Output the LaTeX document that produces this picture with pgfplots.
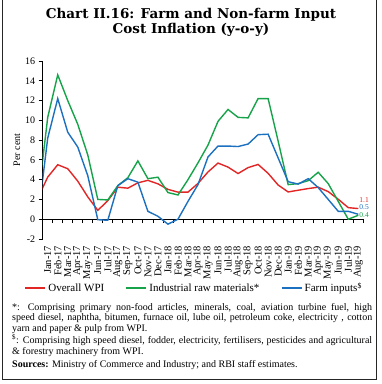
\documentclass[border=0pt]{standalone}
\usepackage{pgfplots}
\pgfplotsset{compat=1.18}
\usepackage{pgfplotstable}
\usepackage{fontspec}
\setmainfont{Liberation Serif}
\newfontfamily\titlefont{DejaVu Serif}
\definecolor{cred}{RGB}{226,38,38}
\definecolor{cgreen}{RGB}{22,163,74}
\definecolor{cblue}{RGB}{28,112,192}
\pgfplotstableread{
i   wpi   ind    farm
-1  2.10  1.70  -0.10
0   4.26  10.30  8.20
1   5.51  14.60 12.20
2   5.11  12.00  8.80
3   3.85   9.60  7.30
4   2.26   6.50  4.40
5   0.90   2.00 -0.05
6   1.88   1.95 -0.10
7   3.24   3.40  3.40
8   3.14   4.20  4.10
9   3.68   5.90  3.75
10  3.93   4.10  0.80
11  3.58   4.25  0.30
12  3.02   2.70 -0.50
13  2.74   2.45  0.00
14  2.74   4.00  1.80
15  3.62   5.70  3.50
16  4.78   7.50  6.30
17  5.68   9.90  7.40
18  5.27  11.10  7.40
19  4.62  10.30  7.35
20  5.22  10.25  7.60
21  5.54  12.20  8.55
22  4.64  12.20  8.60
23  3.46   7.90  6.20
24  2.76   3.50  3.80
25  2.93   3.60  3.55
26  3.10   3.90  4.10
27  3.24   4.75  3.20
28  2.79   3.60  2.00
29  2.02   1.80  0.80
30  1.17   0.00  0.80
31  1.08   0.40  0.50
}\datatable
\begin{document}
\begin{tikzpicture}[x=1pt,y=1pt]
\path[use as bounding box] (0,0) rectangle (382,-384);
\draw[line width=0.9pt, black!85] (2.7,0) -- (2.7,-379.3) -- (376.5,-379.3) -- (376.5,0);
\node[font=\titlefont\bfseries\fontsize{13.5}{15}\selectfont, align=center] at (191,-22.5) {Chart II.16: Farm and Non-farm Input\\Cost Inflation (y-o-y)};
\node[rotate=90, font=\fontsize{10}{12}\selectfont] at (17,-150) {Per cent};
\begin{axis}[
  at={(42.7pt,-239pt)}, anchor=south west,
  scale only axis, width=320.6pt, height=178pt,
  xmin=-0.5, xmax=31.5, ymin=-2, ymax=16,
  axis y line=left, axis x line=middle,
  axis line style={-, black, line width=0.8pt},
  hide obscured x ticks=false, hide obscured y ticks=false,
  ytick={-2,0,...,16},
  xtick={0,...,31},
  xticklabels={Jan-17,Feb-17,Mar-17,Apr-17,May-17,Jun-17,Jul-17,Aug-17,Sep-17,Oct-17,Nov-17,Dec-17,Jan-18,Feb-18,Mar-18,Apr-18,May-18,Jun-18,Jul-18,Aug-18,Sep-18,Oct-18,Nov-18,Dec-18,Jan-19,Feb-19,Mar-19,Apr-19,May-19,Jun-19,Jul-19,Aug-19},
  minor xtick={-0.5,0.5,...,31.5},
  major x tick style={draw=none},
  tick align=outside, major tick length=4pt, minor tick length=4pt,
  tick style={black, line width=0.8pt},
  xticklabel shift=19pt,
  x tick label style={rotate=90, anchor=east, font=\fontsize{10.5}{12}\selectfont},
  y tick label style={font=\fontsize{10}{12}\selectfont},
  /pgf/number format/assume math mode=true,
  clip mode=individual,
  legend columns=3,
  legend style={at={(axis description cs:0.472,-0.275)}, anchor=center, draw=none, fill=none,
    font=\fontsize{11}{13}\selectfont, /tikz/every even column/.append style={column sep=19pt}},
  legend image code/.code={\draw[#1, line width=2.2pt] (0pt,0pt) -- (20pt,0pt);},
]
\addplot[cred, line width=1.4pt] table[x=i, y=wpi] {\datatable};
\addlegendentry{Overall WPI}
\addplot[cgreen, line width=1.4pt] table[x=i, y=ind] {\datatable};
\addlegendentry{Industrial raw materials*}
\addplot[cblue, line width=1.4pt] table[x=i, y=farm] {\datatable};
\addlegendentry{Farm inputs\textsuperscript{\$}}
\node[anchor=west, inner sep=1pt, text=cred, font=\fontsize{7.5}{8}\selectfont] at (axis cs:31,1.95) {1.1};
\node[anchor=west, inner sep=1pt, text=cblue, font=\fontsize{7.5}{8}\selectfont] at (axis cs:31,1.2) {0.5};
\node[anchor=west, inner sep=1pt, text=cgreen, font=\fontsize{7.5}{8}\selectfont] at (axis cs:31,0.45) {0.4};
\end{axis}
\node[anchor=north west, text width=360pt, align=justify, inner sep=0pt, font=\fontsize{10}{10.7}\selectfont] at (12,-303) {\setlength{\parindent}{0pt}*: Comprising primary non-food articles, minerals, coal, aviation turbine fuel, high\linebreak speed diesel, naphtha, bitumen, furnace oil, lube oil, petroleum coke, electricity , cotton\linebreak yarn and paper \& pulp from WPI.\par
\textsuperscript{\$}: Comprising high speed diesel, fodder, electricity, fertilisers, pesticides and agricultural\linebreak \& forestry machinery from WPI.\par\vspace{2.5pt}
\textbf{Sources:} Ministry of Commerce and Industry; and RBI staff estimates.\par};
\end{tikzpicture}
\end{document}
